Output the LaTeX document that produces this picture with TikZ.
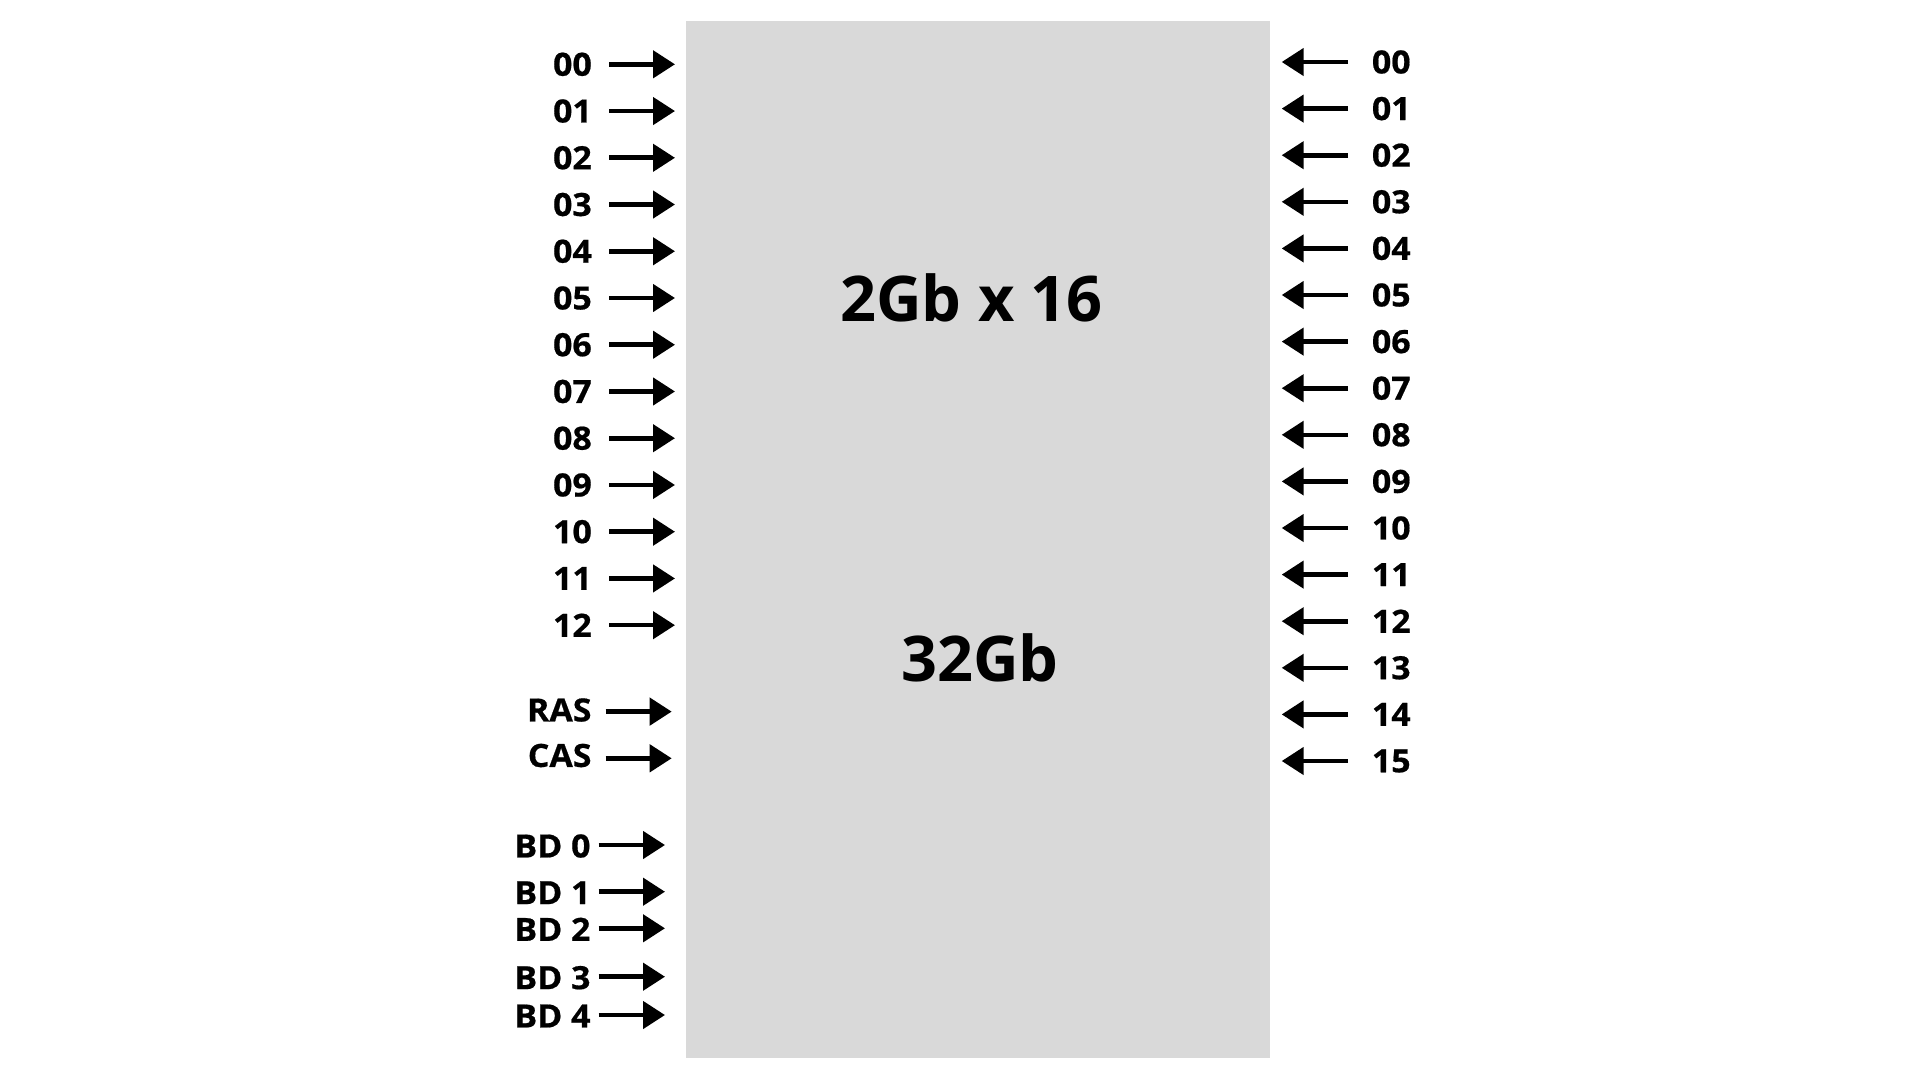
\documentclass[tikz,border=0pt]{standalone}
\usepackage{fontspec}
\setmainfont{Open Sans}
\newfontfamily\pinfont{Open Sans}[BoldFeatures={FakeBold=0.6, FakeStretch=1.06}]
\usetikzlibrary{arrows.meta}

\begin{document}
\begin{tikzpicture}[x=1pt, y=-1pt,
    pin/.style = {font=\fontsize{32}{36}\pinfont\bfseries, inner sep=0pt},
    wire/.style = {-{Triangle[length=22pt, width=27pt]}, line width=4.6pt},
    chip/.style = {font=\fontsize{63}{76}\selectfont\bfseries, inner sep=0pt, anchor=base}]
    \useasboundingbox (0,0) rectangle (1920,1080);
    \fill[fill={rgb,255:red,217;green,217;blue,217}] (686,21) rectangle (1270,1058);
    \node[chip] (title) at (971.5,321.7) {2Gb x 16};
    \node[chip] (size) at (980,681) {32Gb};

    % address inputs
    \foreach \lbl [count=\i from 0] in {00,01,02,03,04,05,06,07,08,09,10,11,12} {
        \node[pin, anchor=east] (a\i) at (592,64.3+46.74*\i) {\lbl};
        \coordinate (at\i) at (675,64.3+46.74*\i);
        \path[wire] (a\i) edge[shorten <=17pt] (at\i);
    }

    % strobes
    \node[pin, anchor=east] (ras) at (591.7,710) {RAS};
    \node[pin, anchor=east] (cas) at (591.7,755.5) {CAS};
    \coordinate (rast) at (671.7,711.6);
    \coordinate (cast) at (671.7,758.3);
    \path[wire] (ras.east |- rast) edge[shorten <=14pt] (rast);
    \path[wire] (cas.east |- cast) edge[shorten <=14pt] (cast);

    % bank select
    \foreach \y [count=\i from 0] in {845,891.7,928.3,976.7,1015} {
        \node[pin, anchor=east] (bd\i) at (590.7,\y+1) {BD \i};
        \coordinate (bdt\i) at (665,\y);
        \path[wire] (bd\i.east |- bdt\i) edge[shorten <=8pt] (bdt\i);
    }

    % data lines
    \foreach \lbl [count=\i from 0] in {00,01,02,03,04,05,06,07,08,09,10,11,12,13,14,15} {
        \node[pin, anchor=west] (d\i) at (1371.7,62+46.6*\i) {\lbl};
        \coordinate (dt\i) at (1281.7,62+46.6*\i);
        \path[wire] (d\i) edge[shorten <=23.7pt] (dt\i);
    }
\end{tikzpicture}
\end{document}
